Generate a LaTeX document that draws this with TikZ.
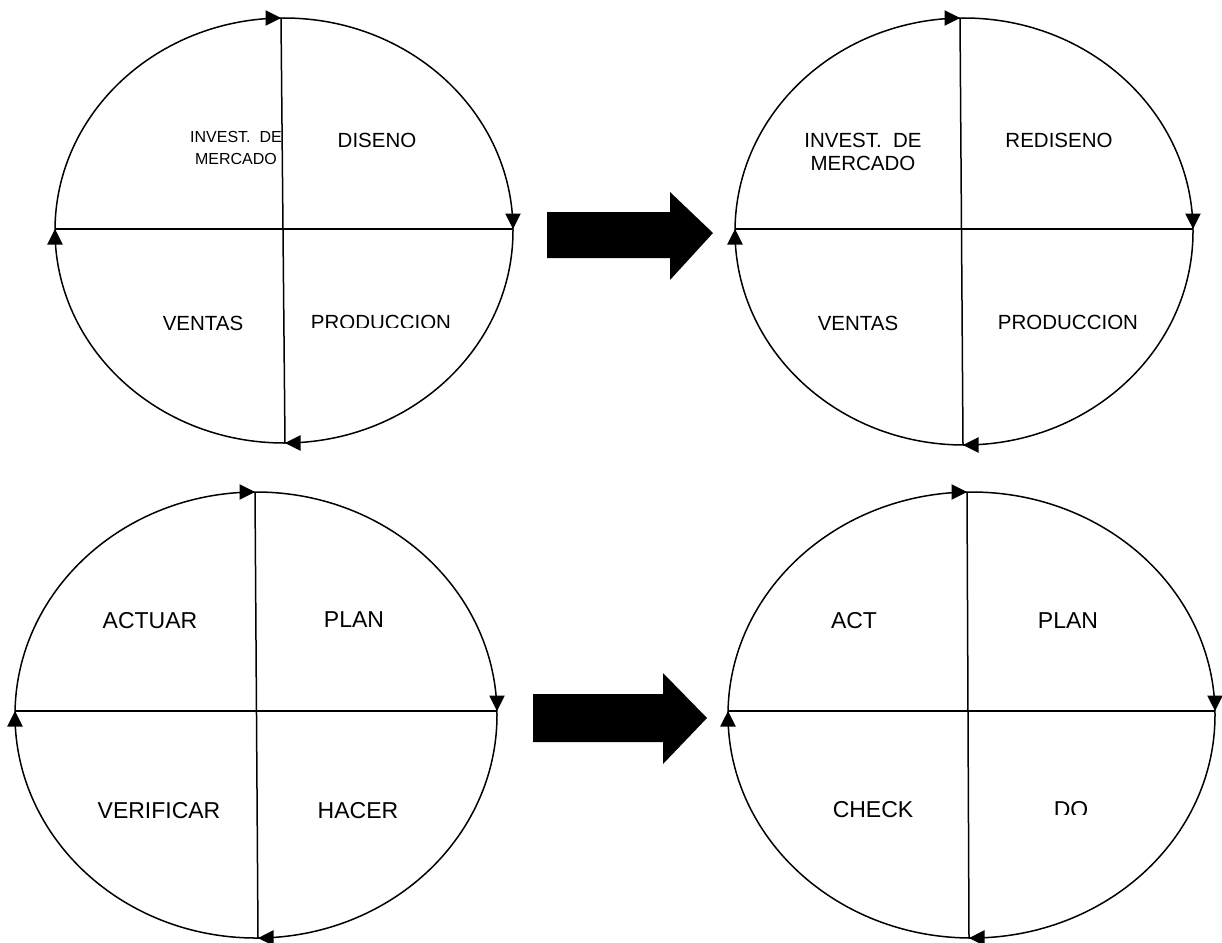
\documentclass[tikz,border=0pt]{standalone}
\usepackage{fontspec}
\setmainfont{Liberation Sans}
\begin{document}
\begin{tikzpicture}[x=1pt,y=-1pt,
  ring/.style={line width=1.5pt,black},
  lbl/.style={font=\fontsize{20.5}{23}\selectfont,inner sep=0pt,align=center},
  lblbig/.style={font=\fontsize{23}{25}\selectfont,inner sep=0pt,align=center},
  lblsmall/.style={font=\fontsize{16}{22.5}\selectfont,inner sep=0pt,align=center},
  blockarrow/.style={fill=black}]
\useasboundingbox (0,0) rectangle (1222,942);
% filled arrowhead with its tip at #1, pointing along canvas angle #2
\newcommand\cyctip[2]{\fill[shift={(#1)},rotate=#2] (0,0) -- (-15.5,7.8) -- (-15.5,-7.8) -- cycle;}

% ---------- cycle 1: market research / design ----------
\draw[ring] (284,230.5) ellipse [x radius=229, y radius=212.5];
\coordinate (a-t) at (281,18);
\coordinate (a-b) at (285,443);
\coordinate (a-l) at (55,229);
\coordinate (a-r) at (513,229);
\draw[ring] (a-l) -- (a-r);
\draw[ring] (a-t) -- (a-b);
\cyctip{a-t}{0}
\cyctip{a-r}{-90}
\cyctip{a-b}{180}
\cyctip{a-l}{90}
\node[lblsmall] (a-q1) at (236,148) {INVEST.~ DE\\MERCADO};
\node[lbl] (a-q2) at (377,140) {DISENO};
\node[lbl] (a-q3) at (203,323) {VENTAS};
\begin{scope}
  \clip (290,300) rectangle (480,327.5);
  \node[lbl] (a-q4) at (381,322) {PRODUCCION};
\end{scope}

% ---------- cycle 2: market research / redesign ----------
\draw[ring] (964,231.5) ellipse [x radius=229, y radius=213.5];
\coordinate (b-t) at (960,18);
\coordinate (b-b) at (963,445);
\coordinate (b-l) at (735,229);
\coordinate (b-r) at (1193,229);
\draw[ring] (b-l) -- (b-r);
\draw[ring] (b-t) -- (b-b);
\cyctip{b-t}{0}
\cyctip{b-r}{-90}
\cyctip{b-b}{180}
\cyctip{b-l}{90}
\node[lbl] (b-q1) at (863,152) {INVEST.~ DE\\MERCADO};
\node[lbl] (b-q2) at (1059,140) {REDISENO};
\node[lbl] (b-q3) at (858,323) {VENTAS};
\node[lbl] (b-q4) at (1068,322) {PRODUCCION};

% ---------- cycle 3: PHVA ----------
\draw[ring] (256,715) ellipse [x radius=241, y radius=223];
\coordinate (c-t) at (255,492);
\coordinate (c-b) at (258,938);
\coordinate (c-l) at (15,711);
\coordinate (c-r) at (497,711);
\draw[ring] (c-l) -- (c-r);
\draw[ring] (c-t) -- (c-b);
\cyctip{c-t}{0}
\cyctip{c-r}{-90}
\cyctip{c-b}{180}
\cyctip{c-l}{90}
\node[lblbig] (c-q1) at (150,621) {ACTUAR};
\node[lblbig] (c-q2) at (354,620) {PLAN};
\node[lblbig] (c-q3) at (159,811) {VERIFICAR};
\node[lblbig] (c-q4) at (358,811) {HACER};

% ---------- cycle 4: PDCA ----------
\draw[ring] (971.5,715) ellipse [x radius=243.5, y radius=223];
\coordinate (d-t) at (967,492);
\coordinate (d-b) at (969,938);
\coordinate (d-l) at (728,711);
\coordinate (d-r) at (1215,711);
\draw[ring] (d-l) -- (d-r);
\draw[ring] (d-t) -- (d-b);
\cyctip{d-t}{0}
\cyctip{d-r}{-90}
\cyctip{d-b}{180}
\cyctip{d-l}{90}
\node[lblbig] (d-q1) at (854,621) {ACT};
\node[lblbig] (d-q2) at (1068,621) {PLAN};
\node[lblbig] (d-q3) at (873,810) {CHECK};
\begin{scope}
  \clip (1030,790) rectangle (1110,814);
  \node[lblbig] (d-q4) at (1071,810) {DO};
\end{scope}

% ---------- block arrows between the cycles ----------
\fill[blockarrow] (547,212) -- (670,212) -- (670,192) -- (713,233)
  -- (670,280) -- (670,258) -- (547,258) -- cycle;
\fill[blockarrow] (533,694) -- (663,694) -- (663,673) -- (707,718)
  -- (663,764) -- (663,742) -- (533,742) -- cycle;
\end{tikzpicture}
\end{document}
